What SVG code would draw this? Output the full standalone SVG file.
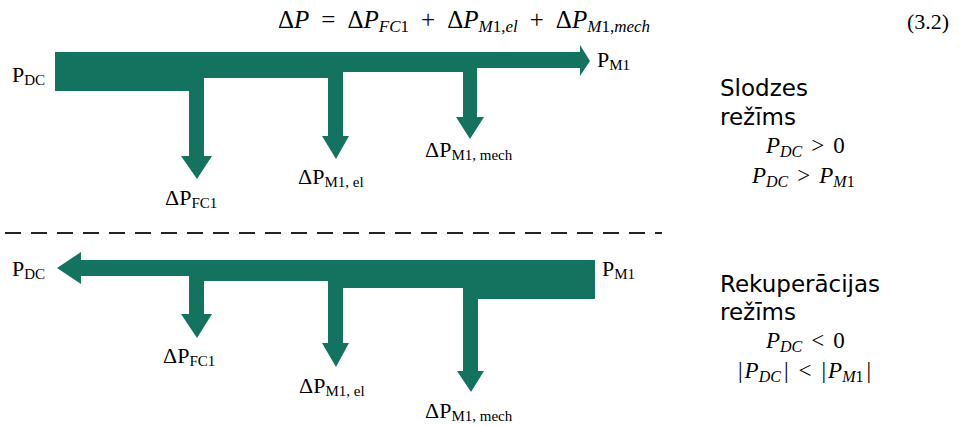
<svg xmlns="http://www.w3.org/2000/svg" width="963" height="426" viewBox="0 0 963 426">
<style>
.flow{fill:#14735f;stroke:none}
.lbl{font-family:"Liberation Serif","Times New Roman",serif;font-size:22px;fill:#000}
.sub{font-size:15px}
.math{font-family:"Liberation Serif","Times New Roman",serif;font-size:23px;fill:#000}
.eq{font-size:25px}
.it{font-style:italic}
.msub{font-size:16px;font-style:italic}
.mnum{font-size:16px}
.eq .msub,.eq .mnum{font-size:17px}
.sans{font-family:"DejaVu Sans",Verdana,sans-serif;font-size:23px;fill:#000}
.dash{stroke:#222;stroke-width:2;stroke-dasharray:16 10;fill:none}
</style>
<text class="math eq" x="278" y="28"><tspan>Δ</tspan><tspan class="it">P</tspan><tspan dx="12">=</tspan><tspan dx="12">Δ</tspan><tspan class="it">P</tspan><tspan class="msub" dy="4">FC</tspan><tspan class="mnum">1</tspan><tspan dy="-4" dx="12">+</tspan><tspan dx="12">Δ</tspan><tspan class="it">P</tspan><tspan class="msub" dy="4">M</tspan><tspan class="mnum">1,</tspan><tspan class="msub">el</tspan><tspan dy="-4" dx="12">+</tspan><tspan dx="12">Δ</tspan><tspan class="it">P</tspan><tspan class="msub" dy="4">M</tspan><tspan class="mnum">1,</tspan><tspan class="msub">mech</tspan></text>
<text class="lbl" x="907" y="29" font-size="24">(3.2)</text>
<g id="connectors">
<line class="dash" x1="5" y1="233" x2="662" y2="233"/>
</g>
<g id="flow-load">
<polygon class="flow" points="55,52 580,52 580,45 590,61 580,76 580,68 477,68 477,117 484,117 470,139 456,117 463,117 463,72 343,72 343,136 349,136 336,159 322,136 328,136 328,78 204,78 204,156 212,156 197,179 181,156 189,156 189,91 55,91"/>
</g>
<g id="flow-regen">
<polygon class="flow" points="57,268 81,252 81,260 595,260 595,299 478,299 478,371 484,371 471,392 457,371 463,371 463,288 343,288 343,343 349,343 336,367 322,343 328,343 328,281 204,281 204,314 212,314 197,338 181,314 189,314 189,276 81,276 81,284"/>
</g>
<g id="labels-load">
<text class="lbl" x="12" y="82">P<tspan class="sub" dy="3">DC</tspan></text>
<text class="lbl" x="597" y="67">P<tspan class="sub" dy="3">M1</tspan></text>
<text class="lbl" x="165" y="205">ΔP<tspan class="sub" dy="3">FC1</tspan></text>
<text class="lbl" x="298" y="184">ΔP<tspan class="sub" dy="3">M1, el</tspan></text>
<text class="lbl" x="425" y="157">ΔP<tspan class="sub" dy="3">M1, mech</tspan></text>
</g>
<g id="labels-regen">
<text class="lbl" x="12" y="276">P<tspan class="sub" dy="3">DC</tspan></text>
<text class="lbl" x="602" y="276">P<tspan class="sub" dy="3">M1</tspan></text>
<text class="lbl" x="163" y="363">ΔP<tspan class="sub" dy="3">FC1</tspan></text>
<text class="lbl" x="299" y="393">ΔP<tspan class="sub" dy="3">M1, el</tspan></text>
<text class="lbl" x="425" y="418">ΔP<tspan class="sub" dy="3">M1, mech</tspan></text>
</g>
<g id="mode-load">
<text class="sans" x="720" y="96">Slodzes</text>
<text class="sans" x="720" y="125">režīms</text>
<text class="math" x="766" y="153"><tspan class="it">P</tspan><tspan class="msub" dy="4">DC</tspan><tspan dy="-4" dx="9">&gt;</tspan><tspan dx="9">0</tspan></text>
<text class="math" x="752" y="183"><tspan class="it">P</tspan><tspan class="msub" dy="4">DC</tspan><tspan dy="-4" dx="9">&gt;</tspan><tspan class="it" dx="9">P</tspan><tspan class="msub" dy="4">M</tspan><tspan class="mnum">1</tspan></text>
</g>
<g id="mode-regen">
<text class="sans" x="720" y="292">Rekuperācijas</text>
<text class="sans" x="720" y="320">režīms</text>
<text class="math" x="766" y="348"><tspan class="it">P</tspan><tspan class="msub" dy="4">DC</tspan><tspan dy="-4" dx="9">&lt;</tspan><tspan dx="9">0</tspan></text>
<text class="math" x="738" y="378"><tspan>|</tspan><tspan class="it" dx="2">P</tspan><tspan class="msub" dy="4">DC</tspan><tspan dy="-4" dx="3">|</tspan><tspan dx="10">&lt;</tspan><tspan dx="10">|</tspan><tspan class="it" dx="2">P</tspan><tspan class="msub" dy="4">M</tspan><tspan class="mnum">1</tspan><tspan dy="-4" dx="3">|</tspan></text>
</g>
</svg>
